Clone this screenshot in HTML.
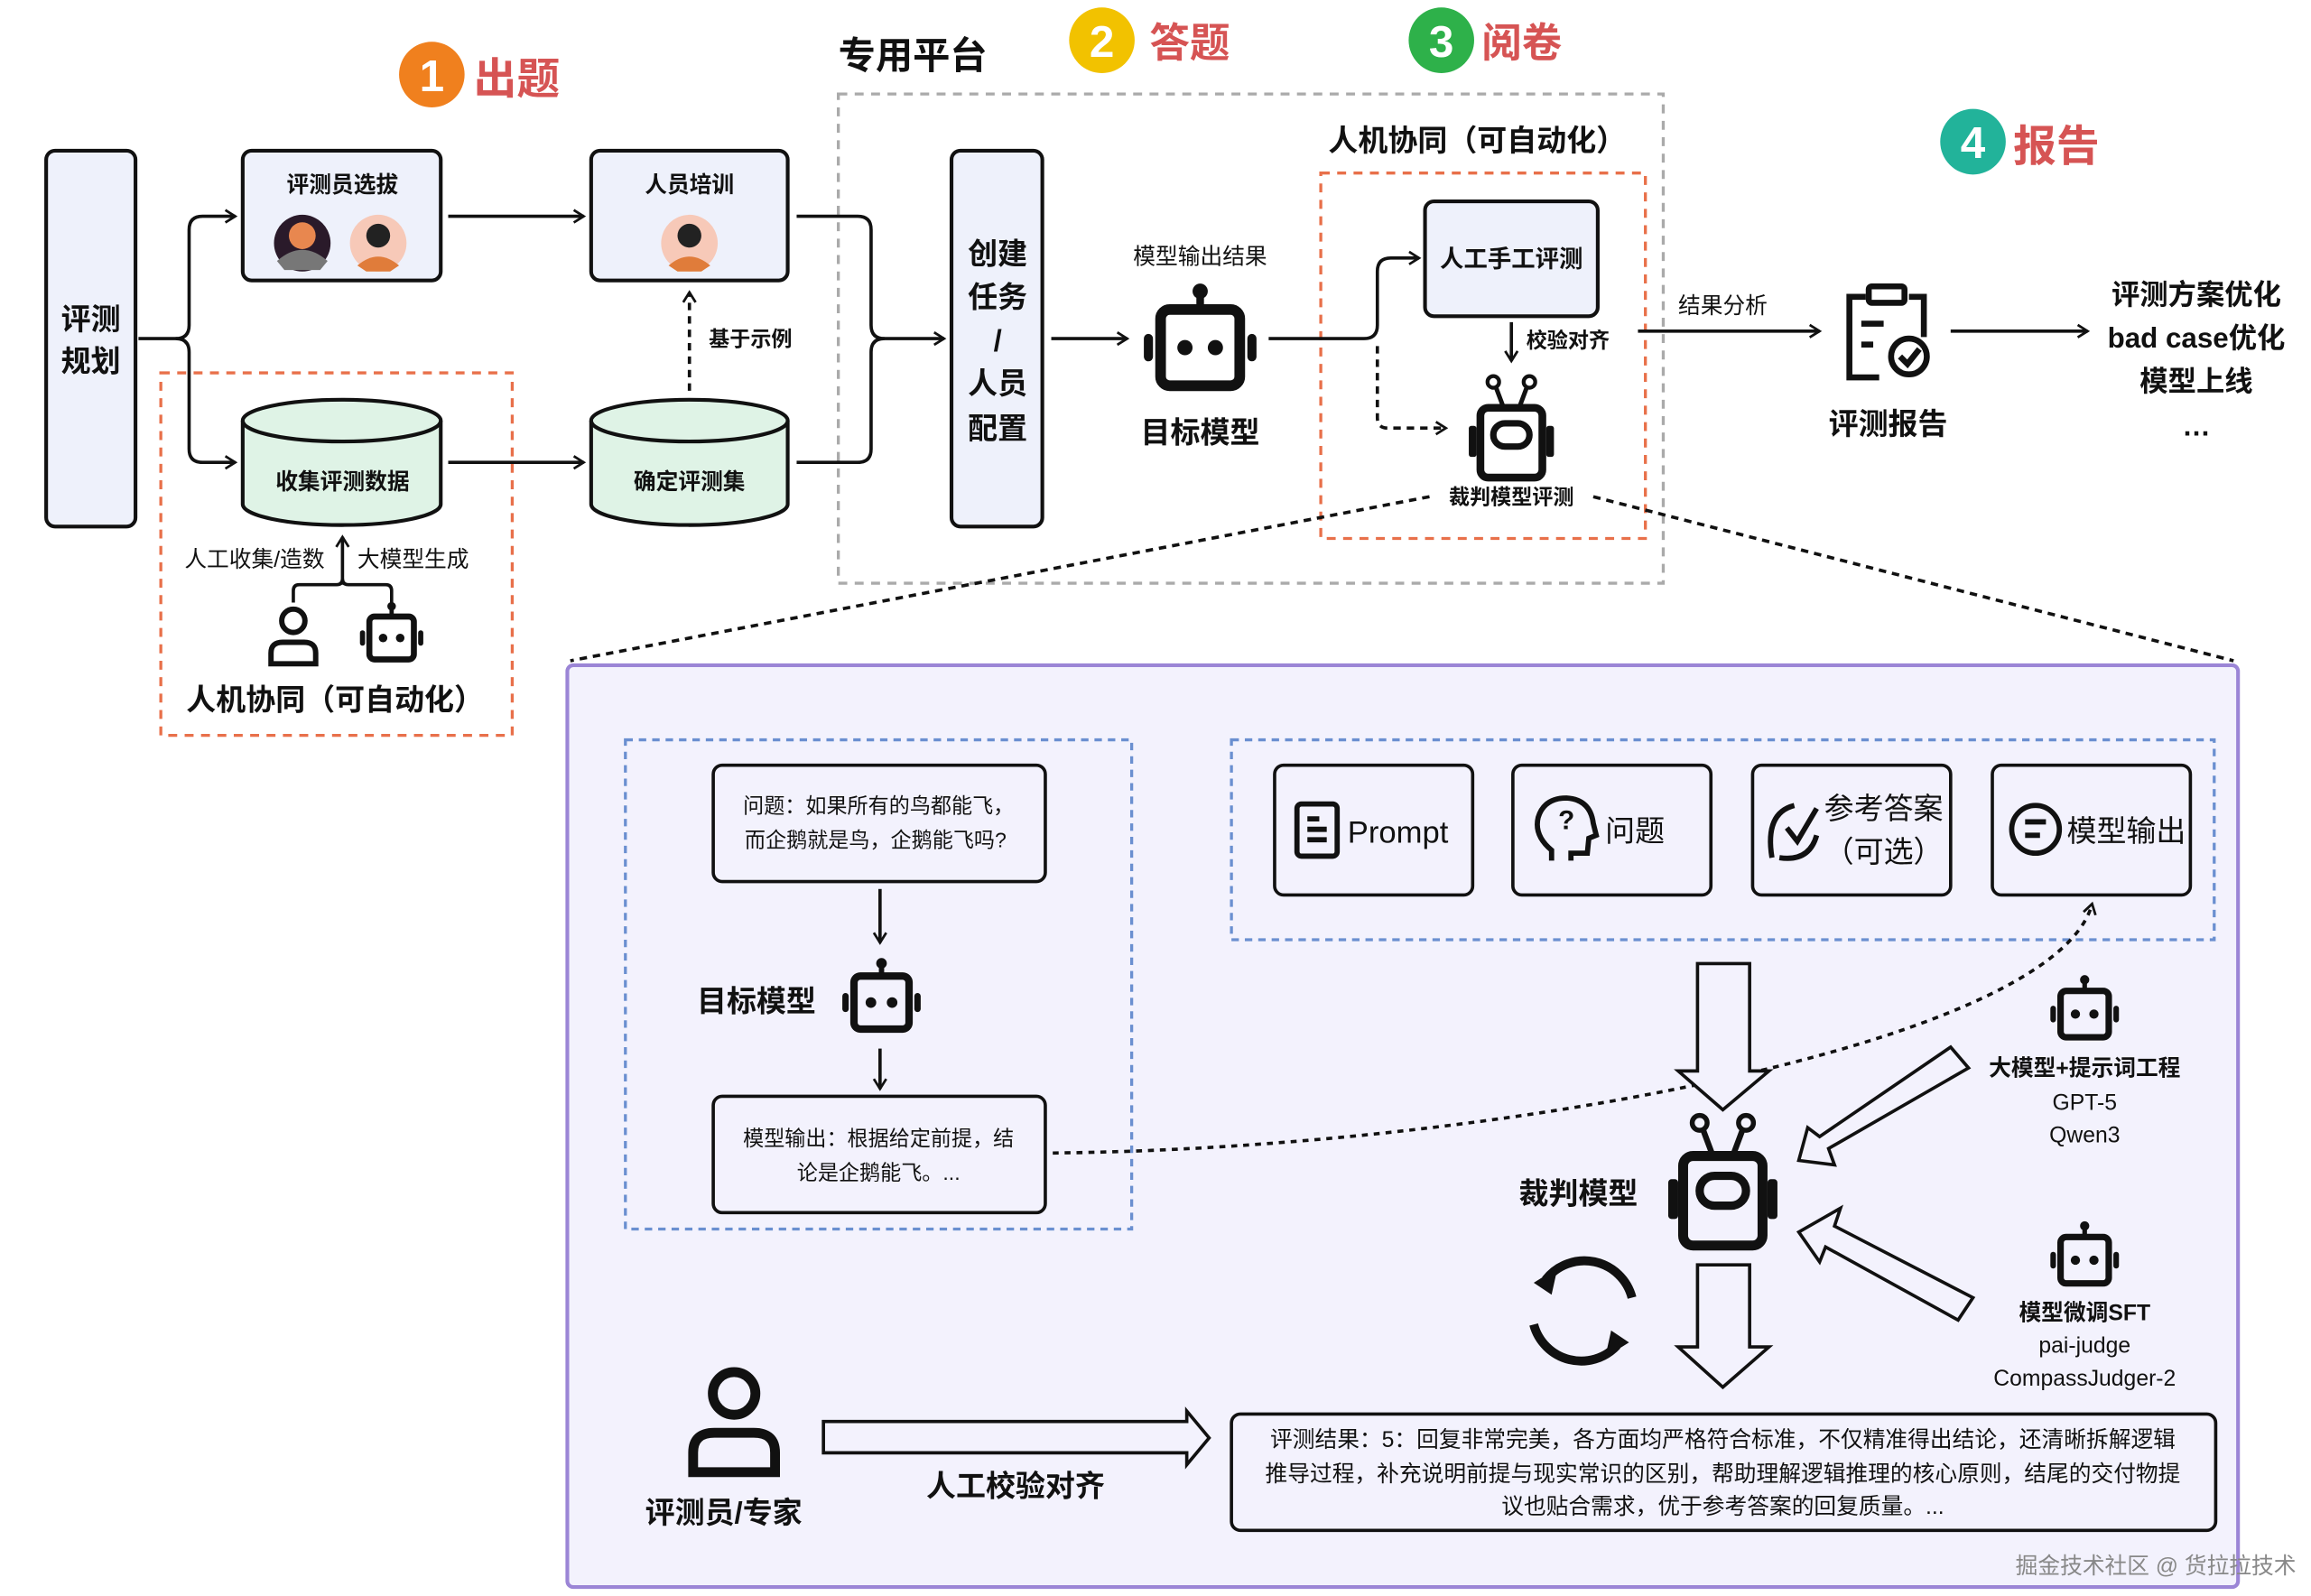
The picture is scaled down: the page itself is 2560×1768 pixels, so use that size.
<!DOCTYPE html>
<html><head><meta charset="utf-8"><style>
html,body{margin:0;padding:0;background:#fff}
svg{display:block}
text{font-family:"Liberation Sans","Noto Sans CJK SC",sans-serif;fill:#111}
.b{font-weight:700}
</style></head><body>
<svg width="2560" height="1768" viewBox="0 0 1552 1070" preserveAspectRatio="none" xmlns="http://www.w3.org/2000/svg">
<defs>
<marker id="ar" viewBox="0 0 12 12" refX="10" refY="6" markerWidth="10" markerHeight="10" markerUnits="userSpaceOnUse" orient="auto"><path d="M2,1 L10,6 L2,11" fill="none" stroke="#111" stroke-width="2"/></marker>
<symbol id="bot" viewBox="-40 -45 80 90">
<circle cx="0" cy="-34" r="5" fill="#111"/><rect x="-2.5" y="-34" width="5" height="12" fill="#111"/>
<rect x="-26" y="-22" width="52" height="50" rx="6" fill="none" stroke="#111" stroke-width="7"/>
<circle cx="-10" cy="3" r="5" fill="#111"/><circle cx="10" cy="3" r="5" fill="#111"/>
<rect x="-37" y="-6" width="6" height="18" rx="3" fill="#111"/><rect x="31" y="-6" width="6" height="18" rx="3" fill="#111"/>
</symbol>
<symbol id="judge" viewBox="-40 -45 80 90">
<circle cx="-14" cy="-38" r="4.5" fill="none" stroke="#111" stroke-width="3"/><circle cx="14" cy="-38" r="4.5" fill="none" stroke="#111" stroke-width="3"/>
<path d="M-12,-34 L-6,-18 M12,-34 L6,-18" stroke="#111" stroke-width="3.5"/>
<rect x="-24" y="-18" width="48" height="54" rx="6" fill="none" stroke="#111" stroke-width="6"/>
<rect x="-14" y="-6" width="28" height="18" rx="9" fill="none" stroke="#111" stroke-width="5"/>
<rect x="-33" y="-4" width="6" height="24" rx="2" fill="#111"/><rect x="27" y="-4" width="6" height="24" rx="2" fill="#111"/>
</symbol>
<symbol id="person" viewBox="-30 -40 60 80">
<circle cx="0" cy="-18" r="13" fill="none" stroke="#111" stroke-width="6"/>
<path d="M-25,30 L-25,18 Q-25,6 -12,6 L12,6 Q25,6 25,18 L25,30 Z" fill="none" stroke="#111" stroke-width="6"/>
</symbol>
</defs>

<!-- titles -->
<circle cx="290" cy="50" r="22" fill="#F0801E"/><text x="290" y="61" font-size="30" text-anchor="middle" class="b" style="fill:#fff">1</text>
<text x="318" y="63" font-size="29" class="b" style="fill:#d65454">出题</text>
<text x="563" y="46" font-size="25" class="b">专用平台</text>
<circle cx="740" cy="27" r="22" fill="#F2C200"/><text x="740" y="38" font-size="30" text-anchor="middle" class="b" style="fill:#fff">2</text>
<text x="772" y="38" font-size="27" class="b" style="fill:#d65454">答题</text>
<circle cx="968" cy="27" r="22" fill="#2EB14A"/><text x="968" y="38" font-size="30" text-anchor="middle" class="b" style="fill:#fff">3</text>
<text x="995" y="38" font-size="27" class="b" style="fill:#d65454">阅卷</text>
<circle cx="1325" cy="95" r="22" fill="#22B39A"/><text x="1325" y="106" font-size="30" text-anchor="middle" class="b" style="fill:#fff">4</text>
<text x="1352" y="108" font-size="29" class="b" style="fill:#d65454">报告</text>

<!-- dashed frames -->
<rect x="563" y="63" width="554" height="328" fill="none" stroke="#aaa" stroke-width="2" stroke-dasharray="6,5"/>
<rect x="887" y="116" width="218" height="245" fill="none" stroke="#E8704A" stroke-width="2" stroke-dasharray="6,5"/>
<rect x="108" y="250" width="236" height="243" fill="none" stroke="#E8704A" stroke-width="2" stroke-dasharray="6,5"/>

<!-- left column -->
<rect x="31" y="101" width="60" height="252" rx="6" fill="#eef1fb" stroke="#111" stroke-width="2.5"/>
<text x="61" y="221" font-size="20" text-anchor="middle" class="b">评测</text>
<text x="61" y="249" font-size="20" text-anchor="middle" class="b">规划</text>

<rect x="163" y="101" width="133" height="87" rx="6" fill="#eef1fb" stroke="#111" stroke-width="2.5"/>
<text x="230" y="129" font-size="15" text-anchor="middle" class="b">评测员选拔</text>
<circle cx="203" cy="163" r="19" fill="#2a1a2a"/><circle cx="203" cy="158" r="9" fill="#e8874f"/><path d="M186,175 Q203,160 220,175 L215,181 L191,181Z" fill="#777"/>
<circle cx="254" cy="163" r="19" fill="#f7c9b8"/><circle cx="254" cy="158" r="8" fill="#222"/><path d="M240,178 Q254,166 268,178 L262,182 L246,182Z" fill="#e07c3a"/>
<rect x="397" y="101" width="132" height="87" rx="6" fill="#eef1fb" stroke="#111" stroke-width="2.5"/>
<text x="463" y="129" font-size="15" text-anchor="middle" class="b">人员培训</text>
<circle cx="463" cy="163" r="19" fill="#f7c9b8"/><circle cx="463" cy="158" r="8" fill="#222"/><path d="M449,178 Q463,166 477,178 L471,182 L455,182Z" fill="#e07c3a"/>

<!-- cylinders -->
<g stroke="#111" stroke-width="2.5">
<path d="M163,282 L163,338 A66.5,14 0 0 0 296,338 L296,282" fill="#dff3e6"/>
<ellipse cx="229.5" cy="282" rx="66.5" ry="14" fill="#dff3e6"/>
<path d="M397,282 L397,338 A66,14 0 0 0 529,338 L529,282" fill="#dff3e6"/>
<ellipse cx="463" cy="282" rx="66" ry="14" fill="#dff3e6"/>
</g>
<text x="230" y="328" font-size="15" text-anchor="middle" class="b">收集评测数据</text>
<text x="463" y="328" font-size="15" text-anchor="middle" class="b">确定评测集</text>

<g fill="none" stroke="#111" stroke-width="2.2">
<path d="M93,227 L118,227 Q127,227 127,218 L127,154 Q127,145 136,145 L158,145" marker-end="url(#ar)"/>
<path d="M118,227 Q127,227 127,236 L127,301 Q127,310 136,310 L158,310" marker-end="url(#ar)"/>
<path d="M301,145 L392,145" marker-end="url(#ar)"/>
<path d="M301,310 L392,310" marker-end="url(#ar)"/>
<path d="M463,262 L463,196" stroke-dasharray="5,4" marker-end="url(#ar)"/>
<path d="M535,145 L576,145 Q585,145 585,154 L585,218 Q585,227 594,227 L634,227" marker-end="url(#ar)"/>
<path d="M535,310 L576,310 Q585,310 585,301 L585,236 Q585,227 594,227"/>
<path d="M706,227 L757,227" marker-end="url(#ar)"/>
<path d="M852,227 L916,227 Q925,227 925,218 L925,182 Q925,173 934,173 L953,173" marker-end="url(#ar)"/>
<path d="M925,232 L925,280 Q925,287 932,287 L971,287" stroke-dasharray="5,4" marker-end="url(#ar)"/>
<path d="M1015,216 L1015,242" marker-end="url(#ar)"/>
<path d="M1100,222 L1222,222" marker-end="url(#ar)"/>
<path d="M1310,222 L1402,222" marker-end="url(#ar)"/>
<path d="M230,392 L230,360" marker-end="url(#ar)"/>
<path d="M197,404 L197,396 Q197,392 201,392 L226,392 Q230,392 230,388 Q230,392 234,392 L259,392 Q263,392 263,396 L263,404"/>
</g>
<text x="476" y="232" font-size="14" class="b">基于示例</text>
<text x="218" y="380" font-size="15" text-anchor="end">人工收集/造数</text>
<text x="240" y="380" font-size="15">大模型生成</text>
<use href="#person" x="179" y="403" width="36" height="48"/>
<use href="#bot" x="240" y="400" width="46" height="52"/>
<text x="225" y="476" font-size="20" text-anchor="middle" class="b">人机协同（可自动化）</text>

<!-- platform -->
<rect x="639" y="101" width="61" height="252" rx="6" fill="#eef1fb" stroke="#111" stroke-width="2.5"/>
<g font-size="20" text-anchor="middle" class="b">
<text x="670" y="177" class="b">创建</text><text x="670" y="206" class="b">任务</text><text x="670" y="235" class="b">/</text><text x="670" y="264" class="b">人员</text><text x="670" y="294" class="b">配置</text></g>
<text x="806" y="177" font-size="15" text-anchor="middle">模型输出结果</text>
<use href="#bot" x="760" y="184" width="92" height="92"/>
<text x="806" y="297" font-size="20" text-anchor="middle" class="b">目标模型</text>
<text x="992" y="101" font-size="20" text-anchor="middle" class="b">人机协同（可自动化）</text>
<rect x="957" y="135" width="116" height="77" rx="6" fill="#eef1fb" stroke="#111" stroke-width="2.5"/>
<text x="1015" y="179" font-size="16" text-anchor="middle" class="b">人工手工评测</text>
<text x="1025" y="233" font-size="14" class="b">校验对齐</text>
<use href="#judge" x="976" y="250" width="78" height="78"/>
<text x="1015" y="338" font-size="14" text-anchor="middle" class="b">裁判模型评测</text>
<text x="1157" y="210" font-size="15" text-anchor="middle">结果分析</text>
<!-- report icon -->
<g fill="none" stroke="#111" stroke-width="4">
<path d="M1253,199 L1242,199 L1242,253 L1262,253"/><path d="M1282,199 L1292,199 L1292,226"/>
<rect x="1255" y="192" width="24" height="11" rx="2"/>
<path d="M1250,217 L1265,217 M1250,231 L1258,231"/>
<circle cx="1282" cy="239" r="12"/><path d="M1276,239 L1281,244 L1289,234"/></g>
<text x="1268" y="291" font-size="20" text-anchor="middle" class="b">评测报告</text>
<g font-size="19" text-anchor="middle">
<text x="1475" y="204" class="b">评测方案优化</text><text x="1475" y="233" class="b">bad case优化</text><text x="1475" y="262" class="b">模型上线</text><text x="1475" y="292" class="b">…</text></g>

<!-- zoom dotted lines -->
<path d="M960,333 L383,443 M1070,333 L1500,443" stroke="#111" stroke-width="2.2" stroke-dasharray="5,4" fill="none"/>

<!-- purple detail -->
<rect x="381" y="446" width="1122" height="618" rx="4" fill="#f3f2fd" stroke="#9b85d6" stroke-width="2.5"/>
<rect x="420" y="496" width="340" height="328" fill="none" stroke="#6a8fd0" stroke-width="2" stroke-dasharray="5,4"/>
<rect x="827" y="496" width="660" height="134" fill="none" stroke="#6a8fd0" stroke-width="2" stroke-dasharray="5,4"/>

<rect x="479" y="513" width="223" height="78" rx="6" fill="#f3f2fd" stroke="#111" stroke-width="2.2"/>
<text x="590" y="545" font-size="14" text-anchor="middle">问题：如果所有的鸟都能飞，</text>
<text x="588" y="568" font-size="14" text-anchor="middle">而企鹅就是鸟，企鹅能飞吗?</text>
<use href="#bot" x="560" y="638" width="64" height="64"/>
<text x="508" y="678" font-size="20" text-anchor="middle" class="b">目标模型</text>
<rect x="479" y="735" width="223" height="78" rx="6" fill="#f3f2fd" stroke="#111" stroke-width="2.2"/>
<text x="590" y="768" font-size="14" text-anchor="middle">模型输出：根据给定前提，结</text>
<text x="590" y="791" font-size="14" text-anchor="middle">论是企鹅能飞。...</text>

<g fill="#f3f2fd" stroke="#111" stroke-width="2.2">
<rect x="856" y="513" width="133" height="87" rx="6"/><rect x="1016" y="513" width="133" height="87" rx="6"/>
<rect x="1177" y="513" width="133" height="87" rx="6"/><rect x="1338" y="513" width="133" height="87" rx="6"/></g>
<g fill="none" stroke="#111" stroke-width="3.5">
<rect x="871" y="539" width="27" height="35" rx="3"/><path d="M878,549 L886,549 M878,556 L891,556 M878,563 L891,563"/>
<path d="M1042,577 L1042,570 Q1030,560 1033,548 Q1037,535 1052,535 Q1068,536 1070,552 L1072,560 L1067,562 L1066,572 L1055,572 L1055,577"/>
<path d="M1190,575 Q1185,545 1205,540 M1200,555 L1207,564 L1220,542 M1220,560 Q1215,578 1195,575"/>
<circle cx="1367" cy="556" r="16"/><path d="M1360,551 L1374,551 M1360,560 L1370,560"/></g>
<text x="1052" y="556" font-size="18" text-anchor="middle" class="b">?</text>
<text x="905" y="565" font-size="21">Prompt</text>
<text x="1078" y="564" font-size="20">问题</text>
<text x="1265" y="549" font-size="20" text-anchor="middle">参考答案</text>
<text x="1265" y="578" font-size="20" text-anchor="middle">（可选）</text>
<text x="1428" y="564" font-size="20" text-anchor="middle">模型输出</text>

<g fill="none" stroke="#111" stroke-width="2.2">
<path d="M591,596 L591,632" marker-end="url(#ar)"/>
<path d="M591,703 L591,730" marker-end="url(#ar)"/>
<path d="M707,773 C1000,770 1380,700 1405,606" stroke-dasharray="4,4" marker-end="url(#ar)"/>
</g>
<!-- hollow arrows -->
<g fill="#f3f2fd" stroke="#111" stroke-width="2.2">
<path d="M1140,646 L1175,646 L1175,718 L1188,718 L1157,744 L1127,718 L1140,718 Z"/>
<path d="M1140,848 L1175,848 L1175,903 L1188,903 L1157,930 L1127,903 L1140,903 Z"/>
<path d="M553,953 L797,953 L797,946 L812,964 L797,982 L797,974 L553,974 Z"/>
<path d="M1310,702 L1322,716 L1228,770 L1232,781 L1208,778 L1214,756 L1222,762 Z"/>
<path d="M1315,885 L1325,870 L1232,822 L1236,810 L1208,826 L1222,846 L1226,836 Z"/>
</g>
<use href="#judge" x="1107" y="745" width="100" height="100"/>
<text x="1060" y="807" font-size="20" text-anchor="middle" class="b">裁判模型</text>
<g fill="none" stroke="#111" stroke-width="6"><path d="M1038,858 A33,33 0 0 1 1096,870"/><path d="M1086,902 A33,33 0 0 1 1030,888"/></g>
<path d="M1030,860 L1046,850 L1042,868Z M1094,900 L1078,910 L1082,892Z" fill="#111"/>
<use href="#bot" x="1372" y="650" width="56" height="56"/>
<use href="#bot" x="1372" y="815" width="56" height="56"/>
<text x="1400" y="721" font-size="15" text-anchor="middle" class="b">大模型+提示词工程</text>
<text x="1400" y="744" font-size="15" text-anchor="middle">GPT-5</text>
<text x="1400" y="766" font-size="15" text-anchor="middle">Qwen3</text>
<text x="1400" y="885" font-size="15" text-anchor="middle" class="b">模型微调SFT</text>
<text x="1400" y="907" font-size="15" text-anchor="middle">pai-judge</text>
<text x="1400" y="929" font-size="15" text-anchor="middle">CompassJudger-2</text>

<use href="#person" x="453" y="910" width="80" height="88"/>
<text x="486" y="1021" font-size="20" text-anchor="middle" class="b">评测员/专家</text>
<text x="682" y="1003" font-size="20" text-anchor="middle" class="b">人工校验对齐</text>
<rect x="827" y="948" width="661" height="78" rx="6" fill="#f3f2fd" stroke="#111" stroke-width="2.2"/>
<text x="1157" y="970" font-size="15" text-anchor="middle">评测结果：5：回复非常完美，各方面均严格符合标准，不仅精准得出结论，还清晰拆解逻辑</text>
<text x="1157" y="993" font-size="15" text-anchor="middle">推导过程，补充说明前提与现实常识的区别，帮助理解逻辑推理的核心原则，结尾的交付物提</text>
<text x="1157" y="1015" font-size="15" text-anchor="middle">议也贴合需求，优于参考答案的回复质量。...</text>
<text x="1542" y="1055" font-size="15" text-anchor="end" style="fill:#888">掘金技术社区 @ 货拉拉技术</text>
</svg>
</body></html>
